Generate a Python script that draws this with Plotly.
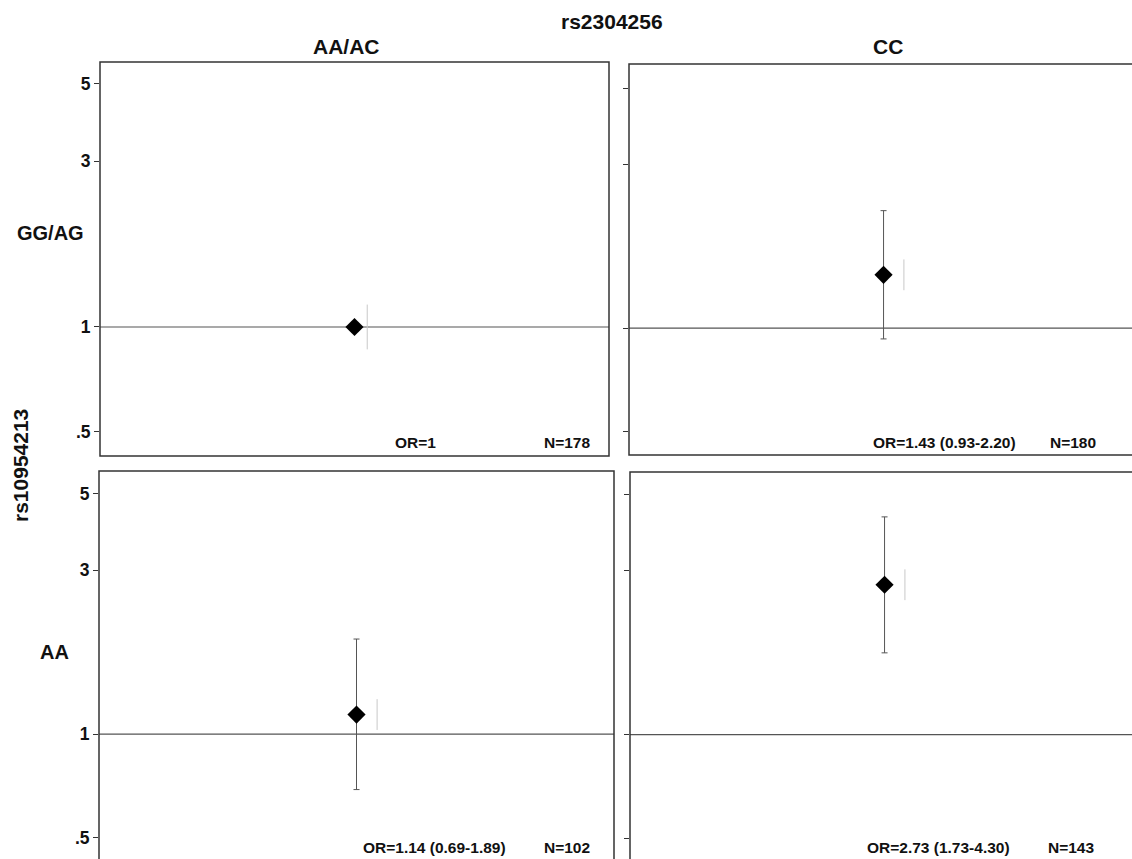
import plotly.graph_objects as go

# ---------------- data ----------------
main_title = "rs2304256"
y_title = "rs10954213"
col_labels = ["AA/AC", "CC"]
row_labels = ["GG/AG", "AA"]

odds_ratio = [[1.00, 1.43], [1.14, 2.73]]
ci_lower = [[None, 0.93], [0.69, 1.73]]
ci_upper = [[None, 2.20], [1.89, 4.30]]
n_count = [[178, 180], [102, 143]]

ytick_vals = [0.5, 1, 3, 5]
ytick_text = [".5", "1", "3", "5"]

# ---------------- layout geometry (pixels) ----------------
W, H = 1132, 859
FONT = "Liberation Sans, Arial, sans-serif"

# panel boxes: (left, right, top, bottom) in px, y-range (log10), x-range
panels = {
    (0, 0): dict(l=100, r=609, t=62, b=456, yr=[-0.371, 0.762], xr=[0, 1]),
    (0, 1): dict(l=629, r=1132, t=64, b=455, yr=[-0.370, 0.770], xr=[0, 0.988]),
    (1, 0): dict(l=99, r=614, t=471, b=859, yr=[-0.363, 0.765], xr=[0, 1]),
    (1, 1): dict(l=630, r=1132, t=472, b=859, yr=[-0.3615, 0.764], xr=[0, 0.986]),
}
text_pos = {
    (0, 0): dict(orx=415, nx=567, y=442),
    (0, 1): dict(orx=944, nx=1073, y=442),
    (1, 0): dict(orx=434, nx=567, y=847),
    (1, 1): dict(orx=938, nx=1071, y=847),
}

fig = go.Figure()
layout = dict(
    width=W, height=H,
    margin=dict(l=0, r=0, t=0, b=0),
    paper_bgcolor="white", plot_bgcolor="white",
    showlegend=False,
    font=dict(family=FONT, color="#111"),
)
shapes = []
annotations = []

idx = 0
for (ri, ci), p in panels.items():
    idx += 1
    sfx = "" if idx == 1 else str(idx)
    xa, ya = "x" + sfx, "y" + sfx
    xdom = [p["l"] / W, p["r"] / W]
    ydom = [max(0, 1 - p["b"] / H), 1 - p["t"] / H]
    layout["xaxis" + sfx] = dict(
        domain=xdom, range=p["xr"], showgrid=False, zeroline=False,
        showticklabels=False, ticks="", showline=False, anchor=ya, fixedrange=True,
    )
    layout["yaxis" + sfx] = dict(
        domain=ydom, type="log", range=p["yr"], showgrid=False, zeroline=False,
        tickvals=ytick_vals, ticktext=ytick_text, ticks="outside", ticklen=5,
        tickwidth=1, tickcolor="#333",
        showticklabels=(ci == 0),
        tickfont=dict(family=FONT, size=17.5, weight="bold", color="#111"),
        showline=False, anchor=xa, fixedrange=True,
    )
    # panel border
    shapes.append(dict(
        type="rect", xref=xa + " domain", yref=ya + " domain",
        x0=0, x1=1.02 if ci == 1 else 1, y0=-0.02 if ri == 1 else 0, y1=1,
        line=dict(color="#333", width=1.5), fillcolor="rgba(0,0,0,0)", layer="above",
    ))
    # reference line at OR = 1
    fig.add_trace(go.Scatter(
        x=[0, 1], y=[1, 1], mode="lines", xaxis=xa, yaxis=ya,
        line=dict(color="#555", width=1.2), hoverinfo="skip", cliponaxis=True,
    ))
    orv = odds_ratio[ri][ci]
    lo = ci_lower[ri][ci]
    hi = ci_upper[ri][ci]
    err = None
    if lo is not None:
        err = dict(type="data", symmetric=False, array=[hi - orv], arrayminus=[orv - lo],
                   color="#555", thickness=1, width=3)
    # faint scan tick beside the marker
    fig.add_trace(go.Scatter(
        x=[0.5 + (0.04 if lo is not None else 0.025)], y=[orv], mode="markers",
        xaxis=xa, yaxis=ya,
        marker=dict(symbol="line-ns", size=22 if lo is not None else 32,
                    line=dict(color="#c8c8c8", width=1)),
        hoverinfo="skip",
    ))
    fig.add_trace(go.Scatter(
        x=[0.5], y=[orv], mode="markers", xaxis=xa, yaxis=ya,
        error_y=err,
        marker=dict(symbol="diamond", size=14, color="black"),
    ))
    label = "OR=1" if lo is None else f"OR={orv:.2f} ({lo:.2f}-{hi:.2f})"
    tp = text_pos[(ri, ci)]
    for txt, xx in [(label, tp["orx"]), (f"N={n_count[ri][ci]}", tp["nx"])]:
        annotations.append(dict(
            text=txt, xref="paper", yref="paper", x=xx / W, y=1 - tp["y"] / H,
            xanchor="center", yanchor="middle", showarrow=False,
            font=dict(family=FONT, size=15.5, weight="bold", color="#111"),
        ))

# titles
annotations.append(dict(text=main_title, xref="paper", yref="paper", x=612 / W, y=1 - 22 / H,
                        xanchor="center", yanchor="middle", showarrow=False,
                        font=dict(family=FONT, size=21, weight="bold", color="#111")))
for txt, xx in zip(col_labels, [346, 888]):
    annotations.append(dict(text=txt, xref="paper", yref="paper", x=xx / W, y=1 - 47 / H,
                            xanchor="center", yanchor="middle", showarrow=False,
                            font=dict(family=FONT, size=21, weight="bold", color="#111")))
for txt, xx, yy in zip(row_labels, [50, 54], [233, 652]):
    annotations.append(dict(text=txt, xref="paper", yref="paper", x=xx / W, y=1 - yy / H,
                            xanchor="center", yanchor="middle", showarrow=False,
                            font=dict(family=FONT, size=20, weight="bold", color="#111")))
annotations.append(dict(text=y_title, xref="paper", yref="paper", x=20 / W, y=1 - 466 / H,
                        xanchor="center", yanchor="middle", showarrow=False, textangle=-90,
                        font=dict(family=FONT, size=21, weight="bold", color="#111")))

layout["shapes"] = shapes
layout["annotations"] = annotations
fig.update_layout(**layout)
fig.write_html(
    "out.html",
    config={"displayModeBar": False},
    post_script="document.body.style.margin='0';document.body.style.overflow='hidden';",
)
